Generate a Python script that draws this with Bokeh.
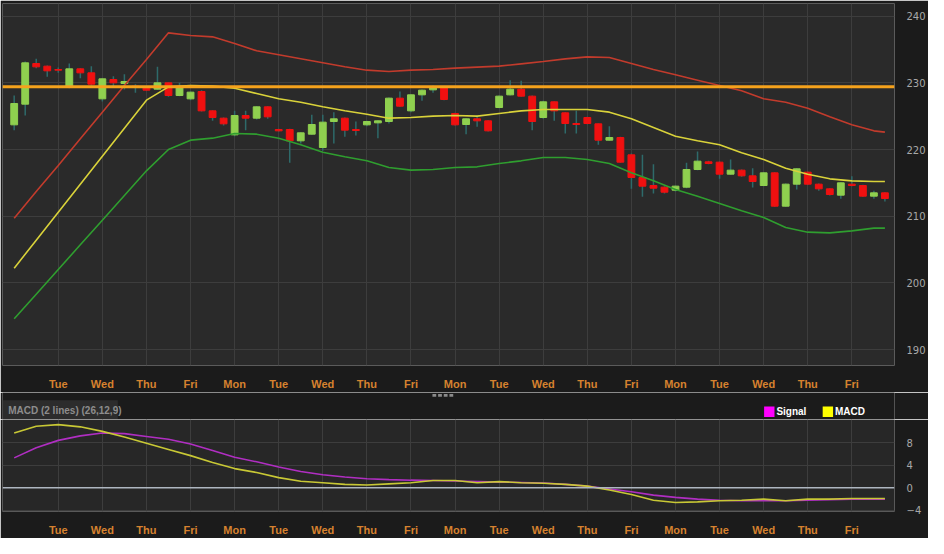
from bokeh.plotting import figure
from bokeh.models import Range1d, FixedTicker, ColumnDataSource, Span
from bokeh.layouts import column
from bokeh.embed import file_html
from bokeh.resources import INLINE
from bokeh.core.properties import value

# ---------------- data ----------------
day_names = ["Mon", "Tue", "Wed", "Thu", "Fri"] * 4
bars_per_day = 4

opens = [223.7, 226.8, 232.9, 232.5, 232.0, 229.3, 232.1, 231.5, 227.6, 230.5,
         229.9, 229.5, 229.4, 229.05, 230.0, 228.1, 227.6, 228.7, 225.8, 224.7,
         222.2, 225.1, 224.7, 226.4, 223.0, 223.0, 221.3, 222.3, 220.3, 224.2,
         224.7, 223.0, 223.7, 224.0, 224.2, 227.7, 225.8, 228.2, 228.95, 229.3,
         225.4, 223.75, 224.6, 224.3, 226.3, 228.2, 229.05, 228.0, 224.8, 227.15,
         225.5, 223.9, 224.8, 223.85, 221.4, 221.8, 219.2, 215.8, 214.6, 214.35,
         213.9, 214.35, 217.0, 218.15, 218.1, 216.3, 216.9, 216.05, 214.6, 216.5,
         211.5, 214.8, 216.6, 214.8, 214.1, 213.15, 214.8, 214.6, 213.0, 213.5]
highs = [228.1, 233.2, 233.6, 232.6, 232.3, 232.9, 232.2, 232.5, 230.7, 231.0,
         231.3, 229.8, 229.5, 232.4, 230.1, 230.0, 228.7, 228.9, 225.9, 224.8,
         225.8, 225.8, 226.5, 226.5, 223.1, 223.1, 222.6, 225.2, 225.2, 225.6,
         224.8, 224.2, 224.3, 224.4, 227.8, 228.7, 228.3, 229.0, 229.6, 229.5,
         225.5, 224.7, 225.1, 224.4, 228.1, 230.4, 230.3, 228.1, 227.3, 227.2,
         225.6, 225.8, 224.9, 223.9, 223.5, 221.9, 219.4, 219.2, 217.8, 214.5,
         214.6, 218.0, 219.7, 218.3, 218.2, 218.5, 217.0, 217.2, 216.6, 216.6,
         214.9, 217.2, 216.7, 214.9, 214.2, 215.1, 216.0, 214.7, 213.8, 213.6]
lows = [222.9, 225.1, 232.2, 230.9, 231.5, 229.2, 230.7, 229.6, 227.2, 229.4,
        229.0, 228.5, 228.8, 228.95, 227.9, 228.0, 227.4, 225.7, 224.3, 223.6,
        222.0, 222.9, 224.5, 224.6, 222.7, 218.0, 220.9, 222.2, 219.8, 220.9,
        221.9, 222.1, 223.5, 221.7, 223.9, 226.4, 225.6, 227.3, 228.5, 227.4,
        223.6, 222.3, 223.4, 222.7, 226.2, 228.1, 227.9, 222.9, 224.6, 224.3,
        222.4, 222.4, 223.8, 220.7, 221.3, 218.0, 214.1, 212.9, 213.4, 213.4,
        213.7, 214.2, 216.9, 217.8, 215.6, 216.2, 215.9, 214.3, 214.5, 211.4,
        211.4, 214.0, 214.7, 213.8, 213.1, 212.6, 214.5, 212.9, 212.6, 212.2]
closes = [226.9, 233.0, 232.4, 231.8, 231.9, 232.1, 231.5, 229.8, 230.6, 230.0,
          230.2, 229.3, 228.9, 230.0, 228.1, 229.4, 228.6, 225.8, 224.8, 223.85,
          225.1, 224.7, 226.4, 224.9, 222.8, 221.3, 222.5, 223.75, 224.1, 224.6,
          222.9, 222.85, 224.2, 224.3, 227.7, 226.5, 228.2, 228.9, 229.4, 227.5,
          223.7, 224.6, 224.3, 222.8, 228.0, 229.05, 228.0, 224.2, 227.15, 225.8,
          223.9, 223.75, 223.9, 221.4, 221.8, 218.1, 215.8, 214.5, 214.2, 213.6,
          214.5, 217.0, 218.25, 217.9, 216.3, 216.9, 216.05, 215.2, 216.5, 211.5,
          214.8, 217.1, 214.8, 214.1, 213.25, 215.0, 214.6, 213.0, 213.5, 212.65]

# indicator readings, taken every second bar plus the last bar
ind_bars = list(range(0, 80, 2)) + [79]
bb_upper = [209.7, 213.7, 217.6, 221.6, 225.6, 229.6, 233.5, 237.5, 237.1, 236.9,
            235.9, 234.8, 234.2, 233.6, 233.0, 232.4, 231.9, 231.7, 231.9, 232.0,
            232.2, 232.35, 232.5, 232.85, 233.2, 233.6, 233.9, 233.8, 232.9, 232.0,
            231.2, 230.4, 229.6, 228.8, 227.6, 227.1, 226.2, 224.9, 223.7, 222.8, 222.6]
bb_middle = [202.2, 206.4, 210.6, 214.8, 219.0, 223.2, 227.4, 229.4, 229.6, 229.5,
             229.2, 228.4, 227.6, 227.1, 226.4, 225.8, 225.3, 224.7, 224.8, 225.0,
             225.1, 225.0, 225.4, 225.8, 226.0, 226.0, 226.0, 225.6, 224.6, 223.3,
             222.0, 221.3, 220.7, 219.5, 218.5, 217.2, 216.3, 215.6, 215.3, 215.2, 215.2]
bb_lower = [194.6, 198.3, 202.0, 205.7, 209.4, 213.1, 216.8, 220.0, 221.4, 221.7,
            222.4, 222.3, 221.7, 220.7, 219.6, 218.9, 218.3, 217.3, 216.9, 217.0,
            217.3, 217.4, 217.9, 218.3, 218.8, 218.8, 218.5, 217.9, 216.5, 215.3,
            214.0, 213.0, 211.9, 210.8, 209.8, 208.3, 207.6, 207.5, 207.8, 208.2, 208.2]
level_line = 229.4

macd_line = [9.7, 10.9, 11.2, 10.8, 10.0, 9.0, 7.9, 6.8, 5.7, 4.5,
             3.4, 2.7, 1.8, 1.15, 0.9, 0.6, 0.5, 0.7, 0.9, 1.3,
             1.3, 0.9, 1.1, 0.9, 0.8, 0.6, 0.3, -0.4, -1.2, -2.2,
             -2.6, -2.5, -2.3, -2.2, -2.0, -2.3, -2.0, -2.0, -1.9, -1.9, -1.9]
signal_line = [5.3, 7.1, 8.4, 9.2, 9.7, 9.6, 9.1, 8.6, 7.75, 6.6,
               5.4, 4.6, 3.7, 2.9, 2.3, 1.9, 1.6, 1.45, 1.35, 1.3,
               1.2, 1.1, 1.0, 0.95, 0.85, 0.6, 0.3, -0.2, -0.7, -1.3,
               -1.7, -2.0, -2.2, -2.3, -2.3, -2.3, -2.2, -2.1, -2.0, -2.0, -2.0]

price_ticks = [190, 200, 210, 220, 230, 240]
macd_ticks = [-4, 0, 4, 8]

# ---------------- styling ----------------
BG = "#2a2a2a"
BORDER = "#1b1b1b"
GRID = "#3d3d3d"
UP = "#8fd04f"
DOWN = "#f01010"
WICK = "#2e6a6a"
XLAB = "#d6822f"
YLAB = "#a8a8a8"

n = len(opens)
idx = list(range(n))
ticks = [d * bars_per_day for d in range(1, len(day_names))]
overrides = {t: day_names[t // bars_per_day] for t in ticks}

src = ColumnDataSource(dict(
    x=idx,
    top=[max(o, c) for o, c in zip(opens, closes)],
    bottom=[min(o, c) for o, c in zip(opens, closes)],
    high=highs, low=lows,
    color=[UP if c >= o else DOWN for o, c in zip(opens, closes)],
))

xr = Range1d(-1.06, 79.87)


def style_axes(fig, yticks):
    fig.xaxis.ticker = FixedTicker(ticks=ticks)
    fig.xaxis.major_label_overrides = overrides
    fig.xaxis.axis_line_color = None
    fig.xaxis.major_tick_line_color = None
    fig.xaxis.minor_tick_line_color = None
    fig.xaxis.major_label_text_color = XLAB
    fig.xaxis.major_label_text_font = "Liberation Sans"
    fig.xaxis.major_label_text_font_style = "bold"
    fig.xaxis.major_label_text_font_size = "11px"
    fig.xaxis.major_label_standoff = 6
    fig.yaxis.ticker = FixedTicker(ticks=yticks)
    fig.yaxis.axis_line_color = None
    fig.yaxis.major_tick_line_color = None
    fig.yaxis.minor_tick_line_color = None
    fig.yaxis.major_label_text_color = YLAB
    fig.yaxis.major_label_text_font = "DejaVu Sans"
    fig.yaxis.major_label_text_font_size = "10px"
    fig.yaxis.major_label_standoff = 6
    fig.xgrid.grid_line_color = GRID
    fig.ygrid.grid_line_color = GRID


# ---------------- main price chart ----------------
p = figure(width=928, height=392, x_range=xr, y_range=Range1d(187.6, 241.9),
           output_backend="svg", toolbar_location=None, y_axis_location="right",
           background_fill_color=BG, border_fill_color=BORDER, outline_line_color=None,
           min_border_left=2, min_border_top=3, min_border_right=28, min_border_bottom=22)
style_axes(p, price_ticks)

p.segment(x0="x", y0="low", x1="x", y1="high", source=src, line_color=WICK, line_width=1.5)
p.vbar(x="x", width=0.62, top="top", bottom="bottom", source=src,
       fill_color="color", line_color="color", line_width=1)

p.line(ind_bars, bb_upper, line_color="#c23b2c", line_width=1.6)
p.line(ind_bars, bb_middle, line_color="#d9d23a", line_width=1.6)
p.line(ind_bars, bb_lower, line_color="#2f9e2f", line_width=1.6)
p.add_layout(Span(location=level_line, dimension="width", line_color="#f5a21c", line_width=3))

# ---------------- MACD header strip ----------------
h = figure(width=928, height=27, x_range=Range1d(0, 944), y_range=Range1d(0, 28),
           x_axis_type=None, y_axis_type=None, output_backend="svg", toolbar_location=None,
           background_fill_color=BORDER, border_fill_color=BORDER, outline_line_color=None,
           min_border=0, min_border_left=0, min_border_right=0, min_border_top=0, min_border_bottom=0)
h.quad(left=[0], right=[122], bottom=[0], top=[20], fill_color="#2c2c2c", line_color=None)
h.text(x=[6], y=[9.5], text=["MACD (2 lines) (26,12,9)"], text_font=value("Liberation Sans"),
       text_font_size="10px", text_font_style="bold", text_color="#8d8d8d", text_baseline="middle")
h.rect(x=[457, 463, 469, 475], y=[25, 25, 25, 25], width=4, height=3, fill_color="#8a8a8a", line_color=None)
h.quad(left=[806, 868], right=[817, 879], bottom=[2.5, 2.5], top=[13.5, 13.5],
       fill_color=["#ff00ff", "#ffff00"], line_color=None)
h.text(x=[819, 881], y=[8, 8], text=["Signal", "MACD"], text_font=value("Liberation Sans"),
       text_font_size="10px", text_font_style="bold", text_color="#ffffff", text_baseline="middle")

# ---------------- MACD chart ----------------
m = figure(width=928, height=119, x_range=xr, y_range=Range1d(-4.2, 12.1),
           output_backend="svg", toolbar_location=None, y_axis_location="right",
           background_fill_color="#272727", border_fill_color=BORDER, outline_line_color=None,
           min_border_left=2, min_border_top=0, min_border_right=28, min_border_bottom=22)
style_axes(m, macd_ticks)
m.add_layout(Span(location=0, dimension="width", line_color="#aeb6c0", line_width=1.5))
m.line(ind_bars, signal_line, line_color="#b02ec2", line_width=1.6)
m.line(ind_bars, macd_line, line_color="#c8c835", line_width=1.6)

layout = column(p, h, m, spacing=0)
open("out.html", "w").write(file_html(layout, INLINE))
